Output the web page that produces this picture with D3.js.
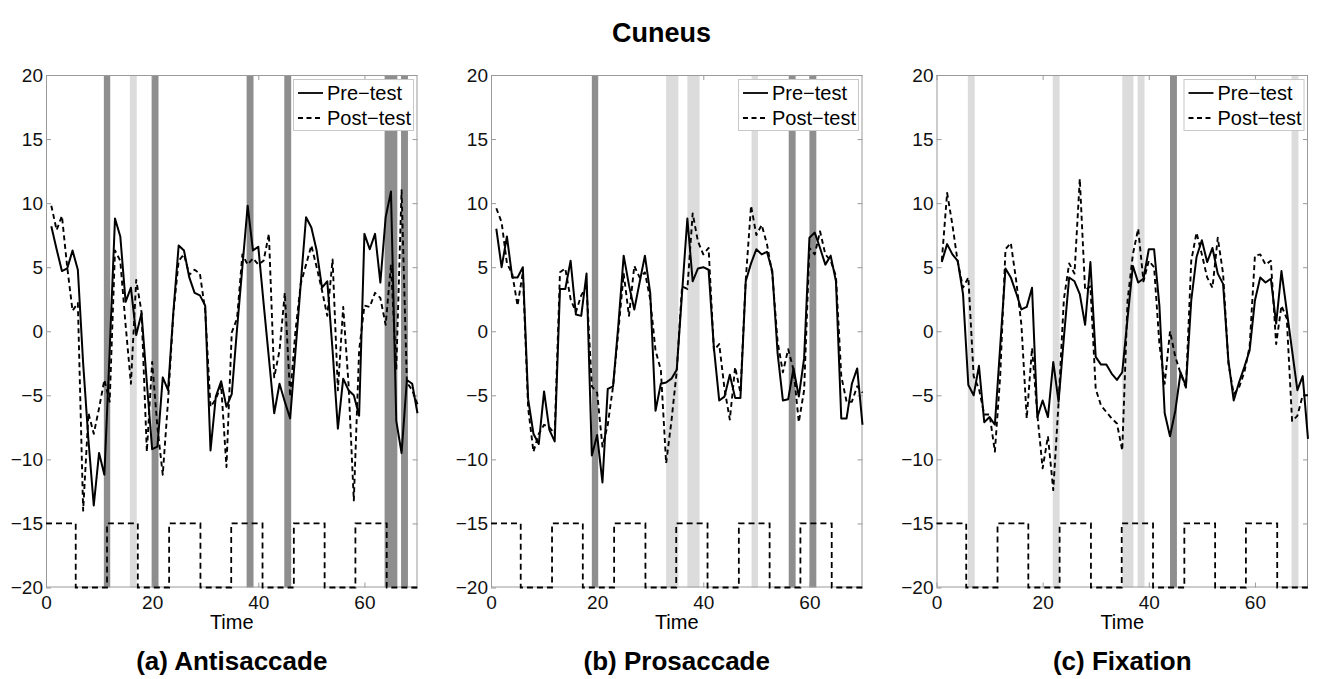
<!DOCTYPE html>
<html>
<head>
<meta charset="utf-8">
<script src="https://cdn.jsdelivr.net/npm/d3@7"></script>
<style>
html,body{margin:0;padding:0;background:#fff;}
svg{display:block;font-family:"Liberation Sans",Arial,Helvetica,sans-serif;}
</style>
</head>
<body>
<svg id="chart" width="1323" height="679"></svg>
<script>
// ---------------- DATA ----------------
const chartTitle = "Cuneus";
const panelTitles = ["(a) Antisaccade", "(b) Prosaccade", "(c) Fixation"];
const seriesNames = ["Pre\u2212test", "Post\u2212test"];
const xLabel = "Time";
const xTicks = [0, 20, 40, 60];
const yTicks = [-20, -15, -10, -5, 0, 5, 10, 15, 20];

// Antisaccade (t = 1..70)
const preAnti = [8.2,6.4,4.7,4.9,6.3,4.8,-2.5,-8.5,-13.6,-9.5,-11.2,-1.5,8.8,7.4,2.3,3.4,-0.3,1.4,-4.0,-9.2,
  -9.0,-3.6,-4.6,1.5,6.7,6.3,4.2,3.0,2.8,2.0,-9.3,-5.1,-3.9,-5.9,-4.9,0.2,5.0,9.8,6.3,6.6,
  2.2,-2.1,-6.4,-4.1,-5.5,-6.8,-1.6,3.7,8.9,8.1,6.3,3.4,3.9,-1.5,-7.6,-3.7,-4.6,-5.0,-6.6,7.6,
  6.4,7.6,3.8,8.9,10.9,-7.0,-9.5,-3.8,-4.1,-6.4];
const postAnti = [9.8,7.9,9.0,5.0,1.6,2.2,-14.0,-6.4,-8.0,-6.0,-3.8,-5.5,6.3,5.5,0.5,-4.1,4.0,1.5,-9.4,-2.4,
  -7.5,-11.2,-5.4,1.4,5.5,6.0,4.4,4.8,4.5,1.6,-5.9,-5.3,-4.2,-10.6,-0.1,1.0,6.0,5.2,5.7,5.2,
  5.5,7.6,-3.6,-1.5,3.0,-5.1,0.0,3.7,5.2,6.7,5.0,3.2,1.2,5.6,-4.6,1.9,-4.1,-13.2,-1.5,2.0,
  1.9,3.0,2.6,0.5,5.2,-3.0,11.0,-4.0,-4.6,-5.7];

// Prosaccade
const prePro = [8.0,5.0,7.4,4.2,4.2,5.0,-5.3,-8.0,-8.8,-4.7,-7.7,-8.6,3.3,3.3,5.5,1.3,1.2,4.5,-9.7,-8.1,
  -11.8,-4.5,-4.3,0.5,5.9,3.6,1.7,3.8,5.9,3.0,-6.2,-4.1,-4.0,-3.7,-3.0,3.0,8.8,3.9,4.9,5.0,
  4.8,-1.3,-5.4,-5.1,-3.4,-5.2,-5.2,3.9,5.3,6.4,6.0,6.2,4.7,-1.7,-5.4,-5.3,-2.9,-5.1,-2.1,7.3,
  7.7,6.5,5.2,5.9,3.9,-6.8,-6.8,-4.1,-2.9,-7.3];
const postPro = [9.6,8.5,5.3,4.5,2.0,4.6,-6.0,-9.4,-8.0,-7.3,-7.5,-8.0,4.6,4.9,2.5,1.5,2.8,3.5,-4.3,-4.8,
  -9.0,-7.3,-4.3,0.0,4.5,1.2,5.1,4.2,4.6,2.5,-1.5,-3.0,-10.3,-7.0,-3.1,3.5,3.3,9.2,7.0,6.0,
  6.5,-1.5,-1.0,-4.5,-6.9,-2.8,-4.8,4.0,9.8,7.5,8.3,6.8,4.5,-0.8,-3.2,-1.4,-3.0,-7.1,-4.6,6.5,
  6.0,7.8,6.0,5.5,4.3,-3.5,-5.5,-5.5,-4.3,-4.8];

// Fixation
const preFix = [5.4,6.8,6.0,5.5,2.9,-4.2,-5.0,-2.7,-7.1,-6.7,-7.3,-1.2,4.9,4.2,3.0,1.7,1.9,3.4,-6.7,-5.4,
  -6.7,-2.4,-5.5,-0.5,4.2,3.9,2.9,0.5,5.4,-2.0,-2.6,-2.6,-3.3,-3.8,-3.2,1.0,5.1,3.8,4.1,6.4,
  6.4,2.0,-6.4,-8.2,-6.2,-3.2,-4.3,2.4,5.8,7.1,5.4,6.5,4.5,3.7,-2.3,-5.4,-4.0,-2.8,-1.5,2.4,
  4.2,3.8,4.1,0.6,4.7,1.6,-1.5,-4.6,-3.5,-8.4];
const postFix = [5.5,10.8,8.3,5.4,3.4,4.2,-3.5,-4.5,-6.5,-6.5,-9.4,-3.5,6.4,6.9,4.0,0.5,-6.8,-1.3,-6.5,-10.7,
  -8.2,-12.4,-5.6,2.5,5.3,4.5,11.9,3.2,3.5,-4.5,-5.8,-6.3,-6.8,-7.2,-9.3,2.4,6.0,8.0,3.9,5.5,
  5.0,-1.0,-4.1,0.0,-2.0,-3.3,-4.4,5.5,7.7,6.0,4.2,3.4,7.3,4.5,-2.5,-4.9,-4.4,-3.2,-1.2,5.9,
  6.0,5.2,5.5,-1.0,2.0,1.0,-7.0,-6.6,-5.0,-5.0];

// Block design (task / rest) boundaries and levels
const blockEdges = [0, 5.6, 11.5, 17.3, 23.2, 29.1, 34.9, 40.8, 46.7, 52.5, 58.3, 64.2, 70];
const blockLevels = [-15, -20, -15, -20, -15, -20, -15, -20, -15, -20, -15, -20];

// Highlighted time bands [start, end, shade]
const bandsAnti = [[10.9,12.1,"dark"],[15.8,17.1,"light"],[19.9,21.2,"dark"],[37.8,39.1,"dark"],
  [44.9,46.2,"dark"],[63.8,66.2,"dark"],[66.9,68.2,"dark"]];
const bandsPro = [[19.0,20.2,"dark"],[33.0,35.3,"light"],[37.0,39.3,"light"],[49.1,50.3,"light"],
  [56.1,57.4,"dark"],[60.0,61.3,"dark"]];
const bandsFix = [[5.9,7.2,"light"],[21.9,23.2,"light"],[35.0,37.1,"light"],[37.9,39.2,"light"],
  [44.0,45.3,"dark"],[66.9,68.2,"light"]];

// ---------------- LAYOUT ----------------
const svg = d3.select("#chart");
const panelLefts = [46, 491, 936.5];
const plotW = 371.5, plotTop = 75, plotBottom = 587.5;
const shade = {dark: "#8e8e8e", light: "#dcdcdc"};
const axisColor = "#9a9a9a";
const fontTick = 19;
const fontFam = "'Liberation Sans',Arial,Helvetica,sans-serif";

const panels = [
  {pre: preAnti, post: postAnti, bands: bandsAnti},
  {pre: prePro, post: postPro, bands: bandsPro},
  {pre: preFix, post: postFix, bands: bandsFix}
];

svg.append("rect").attr("width", 1323).attr("height", 679).attr("fill", "#fff");

svg.append("text").attr("x", 661.5).attr("y", 42).attr("text-anchor", "middle")
  .attr("font-size", 27).attr("font-weight", "bold").attr("fill", "#000").text(chartTitle);

panels.forEach((p, pi) => {
  const left = panelLefts[pi];
  const x = d3.scaleLinear().domain([0, 70]).range([left, left + plotW]);
  const y = d3.scaleLinear().domain([-20, 20]).range([plotBottom, plotTop]);
  const g = svg.append("g");

  // bands
  g.selectAll("rect.band").data(p.bands).enter().append("rect")
    .attr("x", d => x(d[0])).attr("width", d => x(d[1]) - x(d[0]))
    .attr("y", y(20)).attr("height", y(-20) - y(20))
    .attr("fill", d => shade[d[2]]);

  // axes (ticks inward)
  const ax = g.append("g");
  ax.append("g").attr("transform", `translate(0,${plotBottom})`)
    .call(d3.axisBottom(x).tickValues(xTicks).tickSize(-5).tickPadding(8));
  ax.append("g").attr("transform", `translate(0,${plotTop})`)
    .call(d3.axisTop(x).tickValues(xTicks).tickSize(-5).tickFormat(""));
  ax.append("g").attr("transform", `translate(${left},0)`)
    .call(d3.axisLeft(y).tickValues(yTicks).tickSize(-5).tickPadding(3));
  ax.append("g").attr("transform", `translate(${left + plotW},0)`)
    .call(d3.axisRight(y).tickValues(yTicks).tickSize(-5).tickFormat(""));
  ax.selectAll(":scope > g").attr("font-size", fontTick).attr("font-family", fontFam);
  ax.selectAll(".domain").remove();
  ax.selectAll(".tick line").attr("stroke", axisColor);
  ax.selectAll(".tick text").attr("fill", "#111");
  g.append("rect").attr("x", left + 0.5).attr("y", plotTop + 0.5)
    .attr("width", plotW - 1).attr("height", plotBottom - plotTop - 1)
    .attr("fill", "none").attr("stroke", axisColor).attr("stroke-width", 1);

  // block design
  const blockPts = blockEdges.map((e, i) => ({t: e, v: blockLevels[Math.min(i, blockLevels.length - 1)]}));
  g.append("path").datum(blockPts)
    .attr("d", d3.line().curve(d3.curveStepAfter).x(d => x(d.t)).y(d => y(d.v)))
    .attr("fill", "none").attr("stroke", "#000").attr("stroke-width", 1.8)
    .attr("stroke-dasharray", "6,4");

  // series
  const line = d3.line().x((d, i) => x(i + 1)).y(d => y(d));
  g.append("path").datum(p.post).attr("d", line)
    .attr("fill", "none").attr("stroke", "#000").attr("stroke-width", 1.9)
    .attr("stroke-dasharray", "5,3.5").attr("stroke-linejoin", "round");
  g.append("path").datum(p.pre).attr("d", line)
    .attr("fill", "none").attr("stroke", "#000").attr("stroke-width", 2.0)
    .attr("stroke-linejoin", "round");

  // legend
  const lx = left + plotW - 124.5, ly = 79;
  const lg = g.append("g");
  lg.append("rect").attr("x", lx + 0.5).attr("y", ly + 0.5).attr("width", 120).attr("height", 51)
    .attr("fill", "#fff").attr("stroke", "#c8c8c8").attr("stroke-width", 1);
  [0, 1].forEach(k => {
    const cy = ly + 14 + k * 25;
    lg.append("line").attr("x1", lx + 5).attr("x2", lx + 30).attr("y1", cy).attr("y2", cy)
      .attr("stroke", "#000").attr("stroke-width", 1.8)
      .attr("stroke-dasharray", k === 1 ? "5,3.5" : null);
    lg.append("text").attr("x", lx + 34).attr("y", cy + 7.3).attr("font-size", 20)
      .attr("fill", "#000").text(seriesNames[k]);
  });

  // x label and panel title
  g.append("text").attr("x", left + plotW / 2).attr("y", 629).attr("text-anchor", "middle")
    .attr("font-size", 20).attr("fill", "#000").text(xLabel);
  g.append("text").attr("x", left + plotW / 2).attr("y", 670).attr("text-anchor", "middle")
    .attr("font-size", 26).attr("font-weight", "bold").attr("fill", "#000").text(panelTitles[pi]);
});
</script>
</body>
</html>
